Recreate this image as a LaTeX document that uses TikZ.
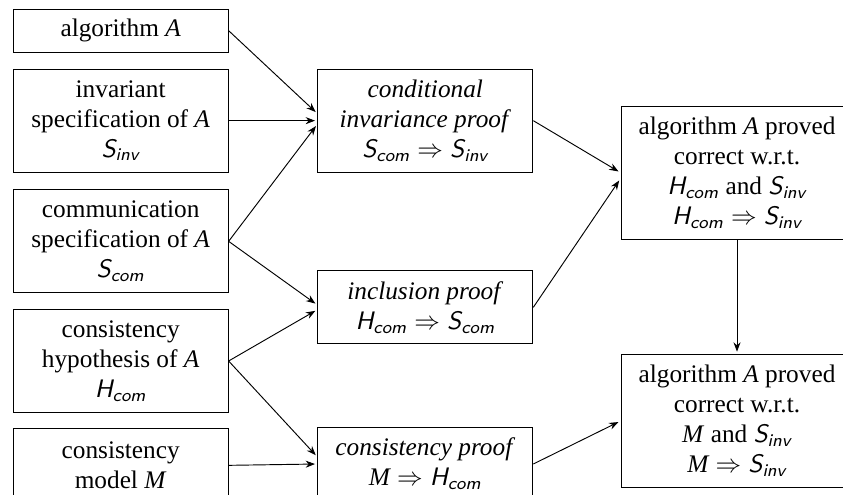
\documentclass[tikz,border=0pt]{standalone}
\usepackage{amsmath}
\usepackage{fontspec}
\setmainfont{Liberation Serif}
\usetikzlibrary{arrows.meta}
\newcommand{\spec}[2]{\textsf{\itshape #1}_{\textsf{\itshape #2}}}
\begin{document}
\begin{tikzpicture}[
    box/.style={draw, minimum width=3.225cm, align=center, inner sep=2pt,
                font=\fontsize{10.8}{12.8}\selectfont},
    arr/.style={-{Stealth[length=4pt,width=3pt]}, shorten >=1pt},
]
\useasboundingbox (0,0) rectangle (12.645,-7.425);

\node[box, minimum height=0.645cm] (alg) at (1.81,-0.46) {algorithm \textit{A}};
\node[box, minimum height=1.545cm] (inv) at (1.81,-1.81) {invariant\\specification of \textit{A}\\$\spec{S}{inv}$};
\node[box, minimum height=1.545cm] (com) at (1.81,-3.62) {communication\\specification of \textit{A}\\$\spec{S}{com}$};
\node[box, minimum height=1.545cm] (hyp) at (1.81,-5.415) {consistency\\hypothesis of \textit{A}\\$\spec{H}{com}$};
\node[box, minimum height=1.095cm] (model) at (1.81,-6.98) {consistency\\model \textit{M}};

\node[box, minimum height=1.545cm] (cond) at (6.38,-1.81) {\textit{conditional}\\\textit{invariance proof}\\$\spec{S}{com} \Rightarrow \spec{S}{inv}$};
\node[box, minimum height=1.095cm] (incl) at (6.38,-4.61) {\textit{inclusion proof}\\$\spec{H}{com} \Rightarrow \spec{S}{com}$};
\node[box, minimum height=1.095cm] (cons) at (6.38,-6.96) {\textit{consistency proof}\\$\mathit{M} \Rightarrow \spec{H}{com}$};

\node[box, minimum width=3.48cm, minimum height=1.995cm] (okinv) at (11.055,-2.59) {algorithm \textit{A} proved\\correct w.r.t.\\$\spec{H}{com}$ and $\spec{S}{inv}$\\$\spec{H}{com} \Rightarrow \spec{S}{inv}$};
\node[box, minimum width=3.48cm, minimum height=1.995cm] (okmod) at (11.055,-6.315) {algorithm \textit{A} proved\\correct w.r.t.\\\textit{M} and $\spec{S}{inv}$\\$\mathit{M} \Rightarrow \spec{S}{inv}$};

\draw[arr] (alg.east) -- ([yshift=3pt]cond.west);
\draw[arr] (inv.east) -- (cond.west);
\draw[arr] (com.east) -- ([yshift=-1.5pt]cond.west);
\draw[arr] (com.east) -- ([yshift=1pt]incl.west);
\draw[arr] (hyp.east) -- ([yshift=-1pt]incl.west);
\draw[arr] (hyp.east) -- ([yshift=3pt]cons.west);
\draw[arr] (model.east) -- (cons.west);
\draw[arr] (cond.east) -- (okinv.west);
\draw[arr] (incl.east) -- ([yshift=-2.5pt]okinv.west);
\draw[arr] (cons.east) -- (okmod.west);
\draw[arr] (okinv.south) -- (okmod.north);
\end{tikzpicture}
\end{document}
